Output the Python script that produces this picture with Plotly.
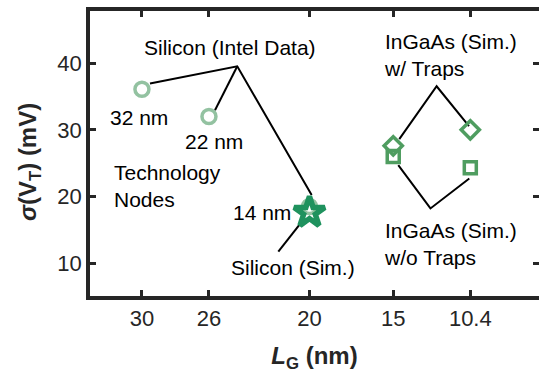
import plotly.graph_objects as go

# --- data -------------------------------------------------------------
# Silicon, Intel measured technology nodes
intel_lg = [30, 26, 20]
intel_sigma = [36.1, 32.0, 18.5]

# Silicon simulation
si_sim_lg = [20]
si_sim_sigma = [17.6]

# InGaAs simulations
ingaas_lg = [15, 10.4]
ingaas_traps_sigma = [27.6, 30.0]
ingaas_notraps_sigma = [26.0, 24.3]

# axis ticks
x_ticks = [30, 26, 20, 15, 10.4]
x_tick_text = ["30", "26", "20", "15", "10.4"]
y_ticks = [10, 20, 30, 40]

# leader lines (polylines in data units)
leader_intel = [
    [(29.52, 36.95), (24.31, 39.55), (19.87, 20.2)],
    [(25.64, 32.95), (24.31, 39.55)],
]
leader_si_sim = [[(20.37, 16.5), (21.86, 11.7)]]
leader_traps = [[(14.64, 28.6), (12.41, 36.55), (10.48, 30.55)]]
leader_notraps = [[(14.70, 24.7), (12.78, 18.2), (10.46, 22.7)]]

# text labels: (x, y, text, xanchor)
labels = [
    (24.75, 42.4, "Silicon (Intel Data)", "center"),
    (30.18, 31.9, "32 nm", "center"),
    (25.70, 28.2, "22 nm", "center"),
    (22.84, 17.66, "14 nm", "center"),
    (31.80, 21.5, "Technology<br>Nodes", "left"),
    (20.96, 9.4, "Silicon (Sim.)", "center"),
    (15.69, 41.2, "InGaAs (Sim.)<br>w/ Traps", "left"),
    (15.69, 12.86, "InGaAs (Sim.)<br>w/o Traps", "left"),
]

FONT = "Liberation Sans, Arial, Helvetica, sans-serif"
AXIS_COLOR = "#262626"
LIGHT_GREEN = "#93c2a1"
MID_GREEN = "#4f9d60"
DARK_GREEN = "#1f925e"

fig = go.Figure()

# leader lines
for group in (leader_intel, leader_si_sim, leader_traps, leader_notraps):
    for line in group:
        fig.add_trace(go.Scatter(
            x=[p[0] for p in line], y=[p[1] for p in line],
            mode="lines", line=dict(color="black", width=2),
            hoverinfo="skip", showlegend=False,
        ))

fig.add_trace(go.Scatter(
    x=intel_lg, y=intel_sigma, mode="markers", name="Silicon (Intel Data)",
    marker=dict(symbol="circle-open", size=14, color=LIGHT_GREEN,
                line=dict(width=3.5, color=LIGHT_GREEN)),
    showlegend=False,
))
fig.add_trace(go.Scatter(
    x=ingaas_lg, y=ingaas_notraps_sigma, mode="markers", name="InGaAs w/o Traps",
    marker=dict(symbol="square-open", size=12, color=MID_GREEN,
                line=dict(width=3.5, color=MID_GREEN)),
    showlegend=False,
))
fig.add_trace(go.Scatter(
    x=ingaas_lg, y=ingaas_traps_sigma, mode="markers", name="InGaAs w/ Traps",
    marker=dict(symbol="diamond-open", size=14, color=MID_GREEN,
                line=dict(width=3.5, color=MID_GREEN)),
    showlegend=False,
))
fig.add_trace(go.Scatter(
    x=si_sim_lg, y=si_sim_sigma, mode="markers", name="Silicon (Sim.)",
    marker=dict(symbol="star-open", size=23, color=DARK_GREEN,
                line=dict(width=5.5, color=DARK_GREEN)),
    showlegend=False,
))

for x, y, text, anchor in labels:
    fig.add_annotation(
        x=x, y=y, xref="x", yref="y", text=text, showarrow=False,
        xanchor=anchor, yanchor="middle", align="left",
        font=dict(family=FONT, size=21, color="black"),
    )

# y-axis title
fig.add_annotation(
    x=-0.136, y=0.47, xref="paper", yref="paper", textangle=-90,
    text="<b><i>σ</i>(V<sub>T</sub>) (mV)</b>", showarrow=False,
    xanchor="center", yanchor="middle",
    font=dict(family=FONT, size=24, color=AXIS_COLOR),
)

fig.update_xaxes(
    range=[33.1, 6.3], tickvals=x_ticks, ticktext=x_tick_text,
    ticks="inside", ticklen=6, tickwidth=3, tickcolor=AXIS_COLOR,
    showline=True, linewidth=3.5, linecolor=AXIS_COLOR, mirror="ticks",
    showgrid=False, zeroline=False,
    tickfont=dict(family=FONT, size=22, color=AXIS_COLOR),
    title=dict(text="<b><i>L</i><sub>G</sub> (nm)</b>", standoff=18,
               font=dict(family=FONT, size=24, color=AXIS_COLOR)),
)
fig.update_yaxes(
    range=[5.05, 47.85], tickvals=y_ticks,
    ticks="inside", ticklen=6, tickwidth=3, tickcolor=AXIS_COLOR,
    showline=True, linewidth=3.5, linecolor=AXIS_COLOR, mirror="ticks",
    showgrid=False, zeroline=False,
    tickfont=dict(family=FONT, size=22, color=AXIS_COLOR),
)

fig.update_layout(
    width=539, height=378,
    margin=dict(l=90, r=0, t=11, b=82, autoexpand=False),
    paper_bgcolor="white", plot_bgcolor="white",
    font=dict(family=FONT),
)

fig.write_html("out.html")
